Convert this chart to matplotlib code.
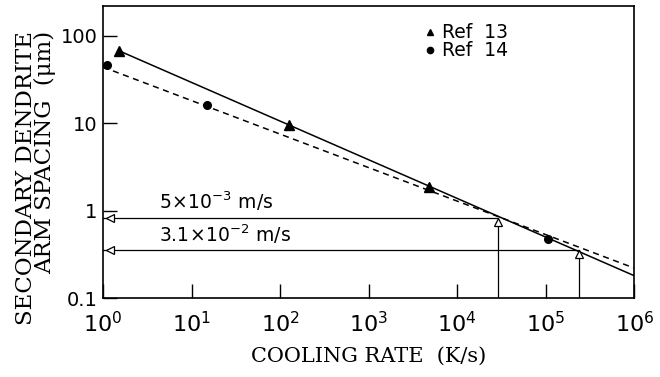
import numpy as np
import matplotlib
matplotlib.use("Agg")
import matplotlib.pyplot as plt

plt.rcParams['mathtext.fontset'] = 'dejavusans'

# data points
ref13_x = [1.5, 126, 4800]
ref13_y = [68, 9.6, 1.88]
ref14_x = [1.1, 15, 1.07e5]
ref14_y = [46, 16, 0.48]

# fitted lines (end points)
fit13_x = [1.5, 1e6]
fit13_y = [68, 0.18]
fit14_x = [1.0, 1e6]
fit14_y = [44, 0.22]

# growth-velocity read-offs: (cooling rate, spacing, label)
guide_x = [2.9e4, 2.4e5]
guide_y = [0.83, 0.35]
guide_lbl = [r'$5\!\times\!10^{-3}$ m/s', r'$3.1\!\times\!10^{-2}$ m/s']

xticks = [1e0, 1e1, 1e2, 1e3, 1e4, 1e5, 1e6]
yticks = [0.1, 1, 10, 100]
ytick_lbl = ['0.1', '1', '10', '100']

fig = plt.figure(figsize=(6.6, 3.77), dpi=100)
ax = fig.add_axes([0.156, 0.2095, 0.805, 0.775])
ax.set_xscale('log')
ax.set_yscale('log')
ax.set_xlim(1, 1e6)
ax.set_ylim(0.1, 221)

ax.plot(fit13_x, fit13_y, color='black', lw=1.1)
ax.plot(fit14_x, fit14_y, color='black', lw=1.1, dashes=(4, 3))
ax.plot(ref13_x, ref13_y, '^', color='black', ms=7, clip_on=False)
ax.plot(ref14_x, ref14_y, 'o', color='black', ms=5.5, clip_on=False)

for gx, gy, lbl in zip(guide_x, guide_y, guide_lbl):
    ax.plot([1, gx], [gy, gy], color='black', lw=0.9)
    ax.plot([gx, gx], [0.1, gy * 0.93], color='black', lw=0.9)
    ax.plot([gx], [gy * 0.9], '^', mfc='white', mec='black', ms=6, mew=0.9)
    ax.plot([1.2], [gy], '<', mfc='white', mec='black', ms=6, mew=0.9)
    ax.text(4.3, gy * 1.13, lbl, fontsize=13.5, family='DejaVu Sans',
            ha='left', va='bottom')

# legend drawn by hand
ax.plot([0.616], [0.911], '^', color='black', ms=4.5, transform=ax.transAxes)
ax.plot([0.616], [0.849], 'o', color='black', ms=4.5, transform=ax.transAxes)
ax.text(0.638, 0.908, 'Ref  13', transform=ax.transAxes, fontsize=13.5,
        va='center', ha='left')
ax.text(0.638, 0.846, 'Ref  14', transform=ax.transAxes, fontsize=13.5,
        va='center', ha='left')

ax.set_xticks(xticks)
ax.set_xticklabels([f'$10^{{{int(np.log10(v))}}}$' for v in xticks])
ax.set_yticks(yticks)
ax.set_yticklabels(ytick_lbl)
ax.minorticks_off()
ax.tick_params(axis='both', direction='in', length=10, width=1, labelsize=14)
ax.tick_params(axis='x', pad=9, labelsize=16)
ax.tick_params(axis='y', pad=4)
for s in ax.spines.values():
    s.set_linewidth(1.2)

ax.set_xlabel('COOLING RATE  (K/s)', family='DejaVu Serif', fontsize=15,
              labelpad=8)
ax.set_ylabel('SECONDARY DENDRITE\nARM SPACING  (\u03bcm)',
              family='DejaVu Serif', fontsize=16.5, linespacing=0.86,
              multialignment='right')
ax.yaxis.set_label_coords(-0.088, 0.41)

fig.savefig('out.png', dpi=100)
